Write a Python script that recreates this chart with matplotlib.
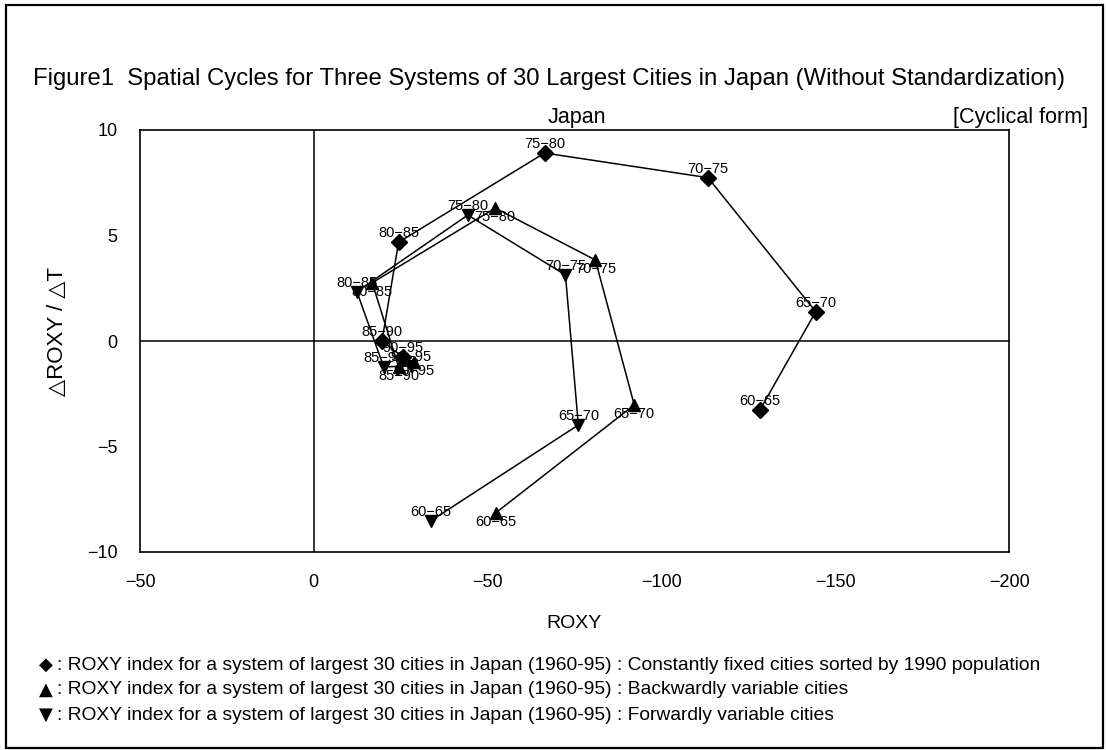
import matplotlib
matplotlib.use("Agg")
import matplotlib.pyplot as plt
from matplotlib.patches import Rectangle

plt.rcParams['font.family'] = ['Liberation Sans', 'DejaVu Sans']

periods = ["60\u221265", "65\u221270", "70\u221275", "75\u221280", "80\u221285", "85\u221290", "90\u221295"]

# Constantly fixed cities (sorted by 1990 population)
fixed_roxy = [-128.3, -144.4, -113.4, -66.4, -24.4, -19.6, -25.6]
fixed_rate = [-3.28, 1.39, 7.74, 8.91, 4.68, 0.0, -0.76]

# Backwardly variable cities
backward_roxy = [-52.3, -92.2, -81.0, -52.2, -16.8, -24.4, -28.7]
backward_rate = [-8.15, -3.03, 3.84, 6.30, 2.76, -1.23, -1.0]

# Forwardly variable cities
forward_roxy = [-33.6, -76.1, -72.4, -44.3, -12.4, -20.1, -27.9]
forward_rate = [-8.53, -3.98, 3.13, 5.97, 2.34, -1.23, -1.18]

x_ticks = [50, 0, -50, -100, -150, -200]
x_tick_labels = ["\u221250", "0", "\u221250", "\u2212100", "\u2212150", "\u2212200"]
y_ticks = [10, 5, 0, -5, -10]
y_tick_labels = ["10", "5", "0", "\u22125", "\u221210"]

legend_lines = [
    ("\u25c6", "ROXY index for a system of largest 30 cities in Japan (1960-95) : Constantly fixed cities sorted by 1990 population"),
    ("\u25b2", "ROXY index for a system of largest 30 cities in Japan (1960-95) : Backwardly variable cities"),
    ("\u25bc", "ROXY index for a system of largest 30 cities in Japan (1960-95) : Forwardly variable cities"),
]

W, H = 1106, 750
fig = plt.figure(figsize=(W / 100, H / 100), dpi=100)
fig.patch.set_facecolor("white")

# outer frame
fig.add_artist(Rectangle((6 / W, 2 / H), 1097 / W, 743 / H, transform=fig.transFigure,
                         fill=False, edgecolor="black", linewidth=1.6))

ax = fig.add_axes([140 / W, 1 - 552 / H, (1009 - 140) / W, (552 - 130) / H])
ax.set_xlim(50, -200)
ax.set_ylim(-10, 10)
ax.axhline(0, color="black", linewidth=1.1, zorder=1)
ax.axvline(0, color="black", linewidth=1.1, zorder=1)
for s in ax.spines.values():
    s.set_linewidth(1.2)

ax.set_xticks(x_ticks)
ax.set_xticklabels(x_tick_labels, fontsize=13)
ax.set_yticks(y_ticks)
ax.set_yticklabels(y_tick_labels, fontsize=13)
ax.tick_params(axis="both", length=0)
ax.tick_params(axis="x", pad=16)
ax.tick_params(axis="y", pad=16)

series = [
    (fixed_roxy, fixed_rate, "D", 8, 9),
    (backward_roxy, backward_rate, "^", 9, -9),
    (forward_roxy, forward_rate, "v", 9, 9),
]
for xs, ys, mk, ms, dy in series:
    ax.plot(xs, ys, color="black", linewidth=1.1, marker=mk, markersize=ms,
            markerfacecolor="black", markeredgecolor="black", zorder=3)
    for lab, x, y in zip(periods, xs, ys):
        ax.annotate(lab, (x, y), xytext=(0, dy), textcoords="offset pixels",
                    ha="center", va="center", fontsize=10.5, zorder=4)

ax.set_xlabel("ROXY", fontsize=14, labelpad=17)
ax.set_ylabel("\u25b3ROXY / \u25b3T", fontsize=16)
ax.yaxis.set_label_coords((68 - 140) / 869, (552 - 331) / 422)

fig.text(33 / W, 1 - 79 / H,
         "Figure1  Spatial Cycles for Three Systems of 30 Largest Cities in Japan (Without Standardization)",
         fontsize=17.2, ha="left", va="center")
fig.text(577 / W, 1 - 117 / H, "Japan", fontsize=15.5, ha="center", va="center")
fig.text(1088 / W, 1 - 117 / H, "[Cyclical form]", fontsize=15.5, ha="right", va="center")

for i, (sym, txt) in enumerate(legend_lines):
    yy = 1 - (665 + 25 * i) / H
    fig.text(46 / W, yy, sym, fontsize=13, ha="center", va="center", family="DejaVu Sans")
    fig.text(57 / W, yy, ": " + txt, fontsize=13.9, ha="left", va="center")

fig.savefig("out.png", dpi=100, facecolor="white")
